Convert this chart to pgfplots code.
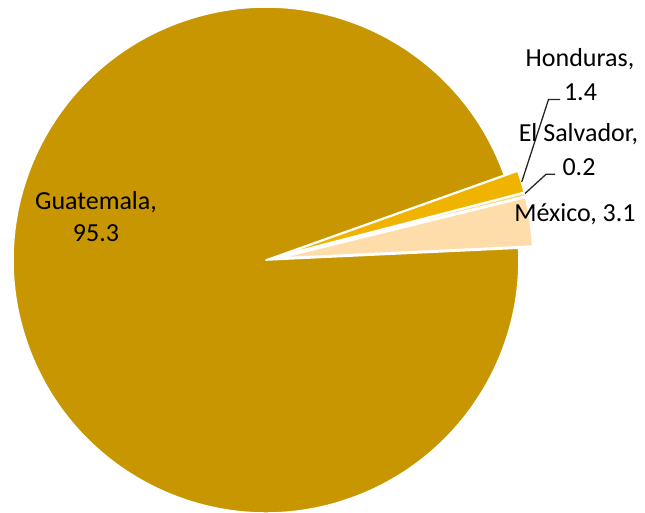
\documentclass[border=0pt]{standalone}
\usepackage{pgfplots}
\pgfplotsset{compat=1.18}
\usetikzlibrary{calc}
\usepackage{fontspec}
\setmainfont{Carlito}

\definecolor{cGua}{RGB}{200,150,0}
\definecolor{cHon}{RGB}{240,180,0}
\definecolor{cSal}{RGB}{255,210,110}
\definecolor{cMex}{RGB}{255,221,170}

% shares in percent, counter-clockwise from the right
\def\vMex{3.1}
\def\vSal{0.2}
\def\vHon{1.4}
\def\vGua{95.3}
\def\startang{2.68}
\def\rad{253}

\pgfmathsetmacro\aA{\startang}
\pgfmathsetmacro\aB{\aA+3.6*\vMex}
\pgfmathsetmacro\aC{\aB+3.6*\vSal}
\pgfmathsetmacro\aD{\aC+3.6*\vHon}
\pgfmathsetmacro\aE{\aD+3.6*\vGua}

% #1 start, #2 end, #3 explode (px), #4 colour
\newcommand\slice[4]{%
  \fill[#4, draw=white, line width=1.6pt, line join=round]
    ($(axis cs:266,260)+({(#1+#2)/2}:#3pt)$) -- ++(#1:\rad pt)
    arc[start angle=#1, end angle=#2, radius=\rad pt] -- cycle;}

\begin{document}
\begin{tikzpicture}
\begin{axis}[x=1pt, y=1pt, xmin=0, xmax=645, ymin=0, ymax=512,
  y dir=reverse, hide axis, clip=true]
\slice{\aD}{\aE}{0}{cGua}
\slice{\aA}{\aB}{14}{cMex}
\slice{\aB}{\aC}{14}{cSal}
\slice{\aC}{\aD}{14}{cHon}

\draw[line width=1.3pt, black!85] (axis cs:560,99.5) -- (axis cs:548.5,99.5) -- (axis cs:521.7,182);
\draw[line width=1.3pt, black!85] (axis cs:555,174.3) -- (axis cs:546,174.3) -- (axis cs:525,193.5);

\begin{scope}[every node/.style={anchor=base, inner sep=0pt, font=\fontsize{26}{31}\selectfont}]
\node at (axis cs:96,209.3) {Guatemala,};
\node at (axis cs:96,241.7) {95.3};
\node at (axis cs:580,66.7) {Honduras,};
\node at (axis cs:580.5,100) {1.4};
\node at (axis cs:578.5,141.7) {El Salvador,};
\node at (axis cs:579,175) {0.2};
\node at (axis cs:575,221.7) {México, 3.1};
\end{scope}
\end{axis}
\pgfresetboundingbox
\useasboundingbox (current axis.south west) rectangle (current axis.north east);
\end{tikzpicture}
\end{document}
